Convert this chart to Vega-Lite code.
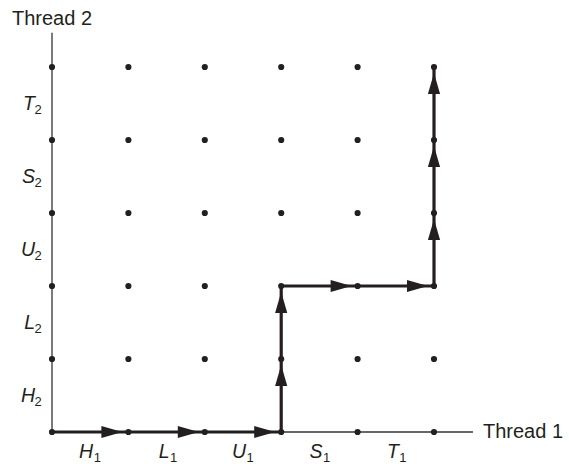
{
  "$schema": "https://vega.github.io/schema/vega-lite/v6.json",
  "width": 569,
  "height": 464,
  "autosize": "none",
  "padding": 0,
  "background": "white",
  "config": {"view": {"stroke": null}, "text": {"font": "Liberation Sans", "color": "#231f20"}},
  "datasets": {
    "grid": [
      {"t1":0,"t2":0},{"t1":1,"t2":0},{"t1":2,"t2":0},{"t1":3,"t2":0},{"t1":4,"t2":0},{"t1":5,"t2":0},
      {"t1":0,"t2":1},{"t1":1,"t2":1},{"t1":2,"t2":1},{"t1":3,"t2":1},{"t1":4,"t2":1},{"t1":5,"t2":1},
      {"t1":0,"t2":2},{"t1":1,"t2":2},{"t1":2,"t2":2},{"t1":3,"t2":2},{"t1":4,"t2":2},{"t1":5,"t2":2},
      {"t1":0,"t2":3},{"t1":1,"t2":3},{"t1":2,"t2":3},{"t1":3,"t2":3},{"t1":4,"t2":3},{"t1":5,"t2":3},
      {"t1":0,"t2":4},{"t1":1,"t2":4},{"t1":2,"t2":4},{"t1":3,"t2":4},{"t1":4,"t2":4},{"t1":5,"t2":4},
      {"t1":0,"t2":5},{"t1":1,"t2":5},{"t1":2,"t2":5},{"t1":3,"t2":5},{"t1":4,"t2":5},{"t1":5,"t2":5}
    ],
    "path": [
      {"x":0,"y":0,"x2":1,"y2":0,"dir":"h"},
      {"x":1,"y":0,"x2":2,"y2":0,"dir":"h"},
      {"x":2,"y":0,"x2":3,"y2":0,"dir":"h"},
      {"x":3,"y":0,"x2":3,"y2":1,"dir":"v"},
      {"x":3,"y":1,"x2":3,"y2":2,"dir":"v"},
      {"x":3,"y":2,"x2":4,"y2":2,"dir":"h"},
      {"x":4,"y":2,"x2":5,"y2":2,"dir":"h"},
      {"x":5,"y":2,"x2":5,"y2":3,"dir":"v"},
      {"x":5,"y":3,"x2":5,"y2":4,"dir":"v"},
      {"x":5,"y":4,"x2":5,"y2":5,"dir":"v"}
    ],
    "axes": [
      {"x":0,"y":0,"x2":5.51,"y2":0,"label":"Thread 1"},
      {"x":0,"y":0,"x2":0,"y2":5.47,"label":"Thread 2"}
    ],
    "xlabels": [
      {"pos":0.5,"letter":"H","sub":"1"},
      {"pos":1.5,"letter":"L","sub":"1"},
      {"pos":2.5,"letter":"U","sub":"1"},
      {"pos":3.5,"letter":"S","sub":"1"},
      {"pos":4.5,"letter":"T","sub":"1"}
    ],
    "ylabels": [
      {"pos":0.5,"letter":"H","sub":"2"},
      {"pos":1.5,"letter":"L","sub":"2"},
      {"pos":2.5,"letter":"U","sub":"2"},
      {"pos":3.5,"letter":"S","sub":"2"},
      {"pos":4.5,"letter":"T","sub":"2"}
    ]
  },
  "resolve": {"scale": {"x": "shared", "y": "shared"}},
  "layer": [
    {
      "data": {"name": "axes"},
      "mark": {"type": "rule", "color": "#333333", "strokeWidth": 1.3},
      "encoding": {
        "x": {"field": "x", "type": "quantitative", "scale": {"domain": [-0.6806, 6.767], "nice": false, "zero": false}, "axis": null},
        "y": {"field": "y", "type": "quantitative", "scale": {"domain": [-0.4384, 5.9178], "nice": false, "zero": false}, "axis": null},
        "x2": {"field": "x2"},
        "y2": {"field": "y2"}
      }
    },
    {
      "data": {"name": "path"},
      "mark": {"type": "rule", "color": "#231f20", "strokeWidth": 3.2},
      "encoding": {
        "x": {"field": "x", "type": "quantitative"},
        "y": {"field": "y", "type": "quantitative"},
        "x2": {"field": "x2"},
        "y2": {"field": "y2"}
      }
    },
    {
      "data": {"name": "path"},
      "transform": [{"filter": "datum.dir === 'h'"}],
      "mark": {"type": "point", "filled": true, "color": "#231f20", "opacity": 1, "shape": "M-1,-0.58L1,0L-1,0.58Z", "size": 441, "xOffset": -16.5, "strokeWidth": 0},
      "encoding": {
        "x": {"field": "x2", "type": "quantitative"},
        "y": {"field": "y2", "type": "quantitative"}
      }
    },
    {
      "data": {"name": "path"},
      "transform": [{"filter": "datum.dir === 'v'"}],
      "mark": {"type": "point", "filled": true, "color": "#231f20", "opacity": 1, "shape": "M-0.58,1L0,-1L0.58,1Z", "size": 441, "yOffset": 16.5, "strokeWidth": 0},
      "encoding": {
        "x": {"field": "x2", "type": "quantitative"},
        "y": {"field": "y2", "type": "quantitative"}
      }
    },
    {
      "data": {"name": "grid"},
      "mark": {"type": "circle", "color": "#231f20", "opacity": 1, "size": 38},
      "encoding": {
        "x": {"field": "t1", "type": "quantitative"},
        "y": {"field": "t2", "type": "quantitative"}
      }
    },
    {
      "data": {"name": "axes"},
      "transform": [{"filter": "datum.label === 'Thread 1'"}],
      "mark": {"type": "text", "align": "left", "baseline": "alphabetic", "dx": 10, "dy": 6, "fontSize": 20},
      "encoding": {
        "x": {"field": "x2", "type": "quantitative"},
        "y": {"field": "y2", "type": "quantitative"},
        "text": {"field": "label"}
      }
    },
    {
      "data": {"name": "axes"},
      "transform": [{"filter": "datum.label === 'Thread 2'"}],
      "mark": {"type": "text", "align": "center", "baseline": "alphabetic", "dy": -7.5, "fontSize": 20},
      "encoding": {
        "x": {"field": "x2", "type": "quantitative"},
        "y": {"field": "y2", "type": "quantitative"},
        "text": {"field": "label"}
      }
    },
    {
      "data": {"name": "xlabels"},
      "mark": {"type": "text", "align": "right", "baseline": "alphabetic", "dx": 3, "dy": 26, "fontSize": 19.5, "fontStyle": "italic"},
      "encoding": {
        "x": {"field": "pos", "type": "quantitative"},
        "y": {"datum": 0, "type": "quantitative"},
        "text": {"field": "letter"}
      }
    },
    {
      "data": {"name": "xlabels"},
      "mark": {"type": "text", "align": "left", "baseline": "alphabetic", "dx": 3.5, "dy": 30.5, "fontSize": 13},
      "encoding": {
        "x": {"field": "pos", "type": "quantitative"},
        "y": {"datum": 0, "type": "quantitative"},
        "text": {"field": "sub"}
      }
    },
    {
      "data": {"name": "ylabels"},
      "mark": {"type": "text", "align": "right", "baseline": "alphabetic", "dx": -17, "dy": 6.5, "fontSize": 19.5, "fontStyle": "italic"},
      "encoding": {
        "x": {"datum": 0, "type": "quantitative"},
        "y": {"field": "pos", "type": "quantitative"},
        "text": {"field": "letter"}
      }
    },
    {
      "data": {"name": "ylabels"},
      "mark": {"type": "text", "align": "left", "baseline": "alphabetic", "dx": -17.5, "dy": 11, "fontSize": 13},
      "encoding": {
        "x": {"datum": 0, "type": "quantitative"},
        "y": {"field": "pos", "type": "quantitative"},
        "text": {"field": "sub"}
      }
    }
  ]
}
